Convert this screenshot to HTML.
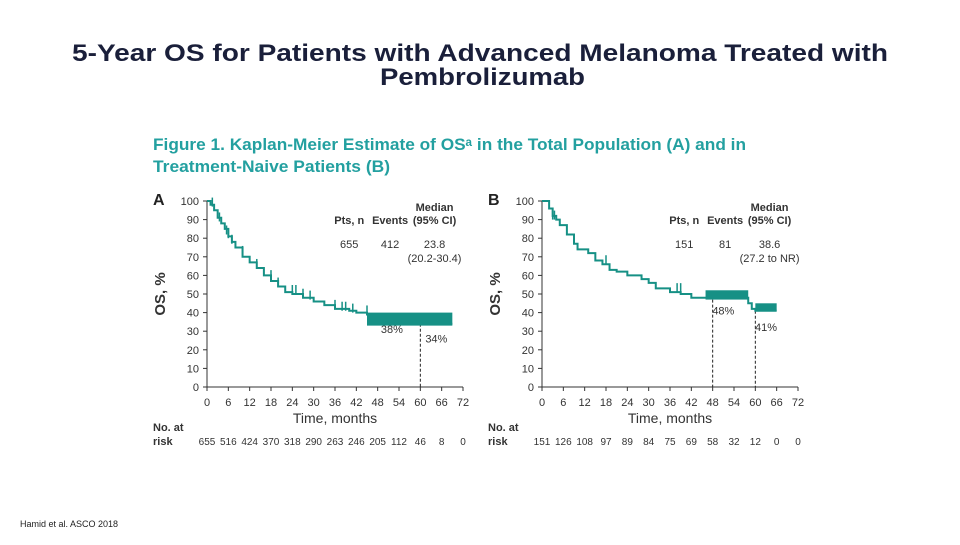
<!DOCTYPE html>
<html><head><meta charset="utf-8">
<style>
body{margin:0;width:960px;height:540px;background:#fff;overflow:hidden;font-family:"Liberation Sans",sans-serif}
</style></head><body>
<svg width="960" height="540" font-family="Liberation Sans, sans-serif">
<text x="72" y="61" font-size="24" font-weight="bold" fill="#1a1f3a" textLength="816" lengthAdjust="spacingAndGlyphs">5-Year OS for Patients with Advanced Melanoma Treated with</text>
<text x="380" y="85" font-size="24" font-weight="bold" fill="#1a1f3a" textLength="205" lengthAdjust="spacingAndGlyphs">Pembrolizumab</text>
<text x="153" y="150" font-size="16.5" font-weight="bold" fill="#23a0a0" textLength="593" lengthAdjust="spacingAndGlyphs">Figure 1. Kaplan-Meier Estimate of OSᵃ in the Total Population (A) and in</text>
<text x="153" y="172" font-size="16.5" font-weight="bold" fill="#23a0a0" textLength="237" lengthAdjust="spacingAndGlyphs">Treatment-Naive Patients (B)</text>
<text x="20" y="527" font-size="9" fill="#222">Hamid et al. ASCO 2018</text>
<g id="charts"></g>
</svg>
<script>
const xTicks=[0,6,12,18,24,30,36,42,48,54,60,66,72];
const yTicks=[0,10,20,30,40,50,60,70,80,90,100];
const kmA_t=[0,1,2,3,4,5,6,7,8,10,12,14,16,18,20,22,24,27,30,33,36,40,42,45,50,55,58,60,69];
const kmA_s=[100,98,95,91,88,85,81,78,75,70,67,64,60,57,54,51,50,48,46,44,42,41,40,39,38,36,35,34,34];
const censA_t=[1.5,3.5,5.5,6,7,10,14,18,20,24,25,27,29,36,38,39,41,45];
const censA_s=[97,89,82,80,77,71,64,58,54,50,50,48,47,42,41,41,40,39];
const bandA=[[45,69,33,40]];
const riskA=[655,516,424,370,318,290,263,246,205,112,46,8,0];
const kmB_t=[0,2,3,4,5,7,9,10,13,15,17,19,21,24,28,30,32,36,39,42,46,58,59,60,66];
const kmB_s=[100,96,92,90,87,82,77,74,72,68,66,63,62,60,58,56,53,51,50,48,48,45,42,41,41];
const censB_t=[3,3.5,18,38,39];
const censB_s=[90,90,66,51,51];
const bandB=[[46,58,47,52],[60,66,41,45]];
const riskB=[151,126,108,97,89,84,75,69,58,32,12,0,0];
const NS="http://www.w3.org/2000/svg";
const root=document.getElementById('charts');
function mk(tag,a,p){const e=document.createElementNS(NS,tag);for(const k in a)e.setAttribute(k,a[k]);(p||root).appendChild(e);return e;}
const TEAL="#169085";
function panel(x0,letter,t,s,ct,cs,bands,risk,meta,drops,pcts){
 const sx=v=>x0+v*(256/72), sy=v=>387-v*1.86;
 const g=mk('g',{});
 
 
 let tx=mk('text',{x:x0-54,y:205,'font-size':16,'font-weight':'bold',fill:'#222'},g);tx.textContent=letter;
 
 mk('line',{x1:x0,y1:sy(100),x2:x0,y2:sy(0),stroke:'#333'},g);
 mk('line',{x1:x0,y1:sy(0),x2:sx(72),y2:sy(0),stroke:'#333'},g);
 yTicks.forEach(v=>{mk('line',{x1:x0-4,x2:x0,y1:sy(v),y2:sy(v),stroke:'#333'},g);
  const e=mk('text',{x:x0-8,y:sy(v)+4,'font-size':11,'text-anchor':'end',fill:'#333'},g);e.textContent=v;
  });
 xTicks.forEach((v,i)=>{mk('line',{x1:sx(v),x2:sx(v),y1:sy(0),y2:sy(0)+4,stroke:'#333'},g);
  const e=mk('text',{x:sx(v),y:406,'font-size':11,'text-anchor':'middle',fill:'#333'},g);e.textContent=v;
  
  const r=mk('text',{x:sx(v),y:445,'font-size':10,'text-anchor':'middle',fill:'#333'},g);r.textContent=risk[i];
  });
 let e=mk('text',{x:sx(36),y:423,'font-size':14,'text-anchor':'middle',fill:'#333'},g);e.textContent='Time, months';
 
 e=mk('text',{x:0,y:0,'font-size':15,'font-weight':'bold','text-anchor':'middle',fill:'#333',transform:`translate(${x0-42},294) rotate(-90)`},g);e.textContent='OS, %';
 
 e=mk('text',{x:x0-54,y:431,'font-size':11,'font-weight':'bold',fill:'#333'},g);e.textContent='No. at';
 
 e=mk('text',{x:x0-54,y:445,'font-size':11,'font-weight':'bold',fill:'#333'},g);e.textContent='risk';
 
 [['Median',sx(64),211,1],['Pts, n',sx(40),224,1],['Events',sx(51.5),224,1],['(95% CI)',sx(64),224,1],[meta[0],sx(40),248,0],[meta[1],sx(51.5),248,0],[meta[2],sx(64),248,0],[meta[3],sx(64),262,0]].forEach(m=>{
  const q=mk('text',{x:m[1],y:m[2],'font-size':11,'text-anchor':'middle','font-weight':m[3]?'bold':'normal',fill:'#333'},g);q.textContent=m[0];
  });
 drops.forEach(d=>mk('line',{x1:sx(d[0]),x2:sx(d[0]),y1:sy(d[1]),y2:sy(0),stroke:'#222','stroke-dasharray':'3,2'},g));
 pcts.forEach(p=>{const q=mk('text',{x:sx(p[0]),y:sy(p[1]),'font-size':11,'text-anchor':'middle',fill:'#333'},g);q.textContent=p[2];
  });
 bands.forEach(b=>{const r=mk('rect',{x:sx(b[0]),y:sy(b[3]),width:sx(b[1])-sx(b[0]),height:sy(b[2])-sy(b[3]),fill:TEAL},g);
  });
 let d='M'+sx(t[0])+','+sy(s[0]);
 for(let i=1;i<t.length;i++)d+=' H'+sx(t[i])+' V'+sy(s[i]);
 const p=mk('path',{d:d,fill:'none',stroke:TEAL,'stroke-width':2},g);
 
 ct.forEach((v,i)=>{const c=mk('line',{x1:sx(v),x2:sx(v),y1:sy(cs[i]),y2:sy(cs[i])-9,stroke:TEAL,'stroke-width':1.5},g);
  });
}
panel(207,'A',kmA_t,kmA_s,censA_t,censA_s,bandA,riskA,['655','412','23.8','(20.2-30.4)'],[[60,34]],[[52,29,'38%'],[64.5,24,'34%']]);
panel(542,'B',kmB_t,kmB_s,censB_t,censB_s,bandB,riskB,['151','81','38.6','(27.2 to NR)'],[[48,47],[60,41]],[[51,39,'48%'],[63,30,'41%']]);
</script>
</body></html>
